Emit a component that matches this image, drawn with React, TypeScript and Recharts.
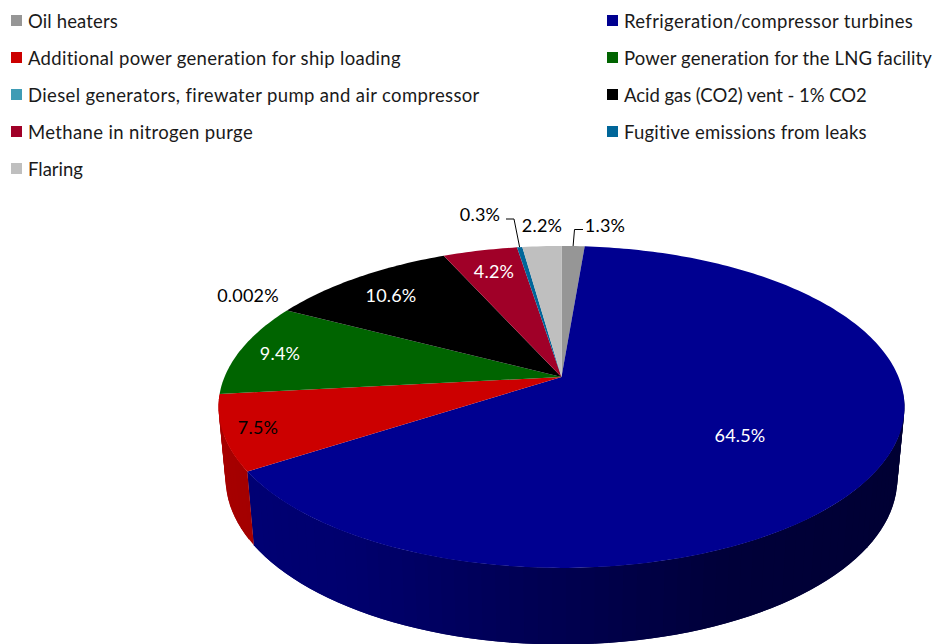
import React from "react";
import { Legend, Pie, PieChart } from "recharts";

const categories = [
  "Oil heaters",
  "Refrigeration/compressor turbines",
  "Additional power generation for ship loading",
  "Power generation for the LNG facility",
  "Diesel generators, firewater pump and air compressor",
  "Acid gas (CO2) vent - 1% CO2",
  "Methane in nitrogen purge",
  "Fugitive emissions from leaks",
  "Flaring",
];
const shares = [1.3, 64.5, 7.5, 9.4, 0.002, 10.6, 4.2, 0.3, 2.2];
const valueLabels = ["1.3%", "64.5%", "7.5%", "9.4%", "0.002%", "10.6%", "4.2%", "0.3%", "2.2%"];
const colors = [
  "#969696",
  "#000090",
  "#CC0000",
  "#006400",
  "#3F9CB5",
  "#000000",
  "#A00028",
  "#006699",
  "#BFBFBF",
];

// label layout, same order as the slices
const labelAnchors = [
  [605, 225],
  [740, 435],
  [258, 427],
  [280, 353],
  [248, 295],
  [391, 295],
  [494, 271],
  [480, 214],
  [542, 225],
];
const labelColors = ["#000", "#fff", "#000", "#fff", "#000", "#fff", "#fff", "#000", "#000"];
const leaderElbows: Record<number, number[][]> = {
  0: [[574.5, 229.5], [583, 229.5]],
  7: [[514, 219], [506, 219]],
};
// legend text widths differ per entry with this font
const legendSpacing = [0.14, 0.35, 0.3, 0.14, 0.36, -0.04, 0.36, 0.22, 0];

const tableData = categories.map((name, i) => ({
  name,
  value: shares[i],
  fill: colors[i],
}));

const FONT = "Lato, sans-serif";
const CX = 561.5;
const CY = 377;
const PERSPECTIVE = 0.186;

// excel style tilted pie: unit disc -> screen
const project = (deg: number, c: number, a: number, y0: number) => {
  const rad = (deg * Math.PI) / 180;
  const u = Math.cos(rad);
  const v = -Math.sin(rad);
  const d = 1 - PERSPECTIVE * v;
  return [CX + (c * u) / d, y0 + (a * v) / d];
};
const topPoint = (deg: number) => project(deg, 337, 155.4, CY);
const bottomPoint = (deg: number) => project(deg, 330, 160, 448);

const arcAngles = (start: number, end: number, stepSize = 1) => {
  const steps = Math.max(1, Math.ceil(Math.abs(end - start) / stepSize));
  const out: number[] = [];
  for (let i = 0; i <= steps; i++) out.push(start + ((end - start) * i) / steps);
  return out;
};

const SHADE_STOPS = [
  [-1, 0.82],
  [-0.53, 0.76],
  [0, 0.55],
  [0.4, 0.4],
  [1, 0.35],
];
const shadeAt = (u: number) => {
  for (let i = 1; i < SHADE_STOPS.length; i++) {
    const [u0, s0] = SHADE_STOPS[i - 1];
    const [u1, s1] = SHADE_STOPS[i];
    if (u <= u1) return s0 + ((s1 - s0) * (u - u0)) / (u1 - u0);
  }
  return 0.35;
};
const darken = (hex: string, k: number) => {
  const n = parseInt(hex.slice(1), 16);
  const f = (x: number) => Math.round(x * k);
  return `rgb(${f((n >> 16) & 255)},${f((n >> 8) & 255)},${f(n & 255)})`;
};

const TopFace = (props: any) => {
  const { startAngle, endAngle, fill } = props;
  const pts = arcAngles(startAngle, endAngle).map((a) => topPoint(a).join(","));
  return <path d={`M${CX},${CY}L${pts.join("L")}Z`} fill={fill} stroke="none" />;
};

const WallFace = (props: any) => {
  const { startAngle, endAngle, fill } = props;
  const angles = arcAngles(startAngle, endAngle, 2);
  const last = angles.length - 1;
  return (
    <g>
      {angles.slice(1).map((a, i) => {
        const b = angles[i];
        const mid = (((a + b) / 2) * Math.PI) / 180;
        // only the near part of the rim shows
        if (Math.sin(mid) > -0.1) return null;
        // each band runs under the next one so no seams show
        const over = i + 1 < last ? angles[i + 2] : a;
        const q = [topPoint(b), topPoint(over), bottomPoint(over), bottomPoint(b)];
        const c = darken(fill, shadeAt(Math.cos(mid)));
        return <path key={i} d={`M${q.map((p) => p.join(",")).join("L")}Z`} fill={c} stroke="none" />;
      })}
    </g>
  );
};

const renderLabel = (props: any) => {
  const { index, midAngle } = props;
  const [x, y] = labelAnchors[index];
  const elbow = leaderElbows[index];
  const start = topPoint(midAngle);
  return (
    <g key={index}>
      {elbow && (
        <polyline
          points={[start, ...elbow].map((p) => p.join(",")).join(" ")}
          fill="none"
          stroke="#000"
          strokeWidth={1}
        />
      )}
      <text
        x={x}
        y={y}
        textAnchor="middle"
        dominantBaseline="central"
        fill={labelColors[index]}
        fontFamily={FONT}
        fontSize={18}
        letterSpacing={0.2}
      >
        {valueLabels[index]}
      </text>
    </g>
  );
};

const renderLegend = (props: any) => {
  const payload = props.payload || [];
  // both pies feed the legend, keep one entry per slice in slice order
  const items = categories.map((c) => payload.find((p: any) => p.value === c) || { value: c });
  return (
    <div style={{ position: "relative", width: 933, height: 190 }}>
      {items.map((item: any, i: number) => {
        const left = i % 2 === 1 ? 607 : 11;
        const top = 15 + 37 * Math.floor(i / 2);
        return (
          <div key={item.value} style={{ position: "absolute", left, top, height: 11 }}>
            <div style={{ position: "absolute", left: 0, top: 0, width: 11, height: 11, background: colors[i] }} />
            <div
              style={{
                position: "absolute",
                left: 17,
                top: -5,
                fontFamily: FONT,
                fontSize: 18.5,
                letterSpacing: legendSpacing[i],
                lineHeight: "22px",
                color: "#1a1a1a",
                whiteSpace: "nowrap",
              }}
            >
              {item.value}
            </div>
          </div>
        );
      })}
    </div>
  );
};

export default function App() {
  return (
    <div style={{ position: "absolute", left: 0, top: 0, width: 933, height: 644, overflow: "hidden", background: "#fff" }}>
      <PieChart width={933} height={644} margin={{ top: 0, right: 0, bottom: 0, left: 0 }}>
        <Legend
          content={renderLegend}
          wrapperStyle={{ position: "absolute", left: 0, top: 0, width: 933 }}
        />
        <Pie
          data={tableData}
          dataKey="value"
          nameKey="name"
          cx={CX}
          cy={CY}
          outerRadius={337}
          startAngle={90}
          endAngle={-270}
          stroke="none"
          shape={WallFace}
          isAnimationActive={false}
        />
        <Pie
          data={tableData}
          dataKey="value"
          nameKey="name"
          cx={CX}
          cy={CY}
          outerRadius={337}
          startAngle={90}
          endAngle={-270}
          stroke="none"
          shape={TopFace}
          label={renderLabel}
          labelLine={false}
          isAnimationActive={false}
        />
      </PieChart>
    </div>
  );
}
